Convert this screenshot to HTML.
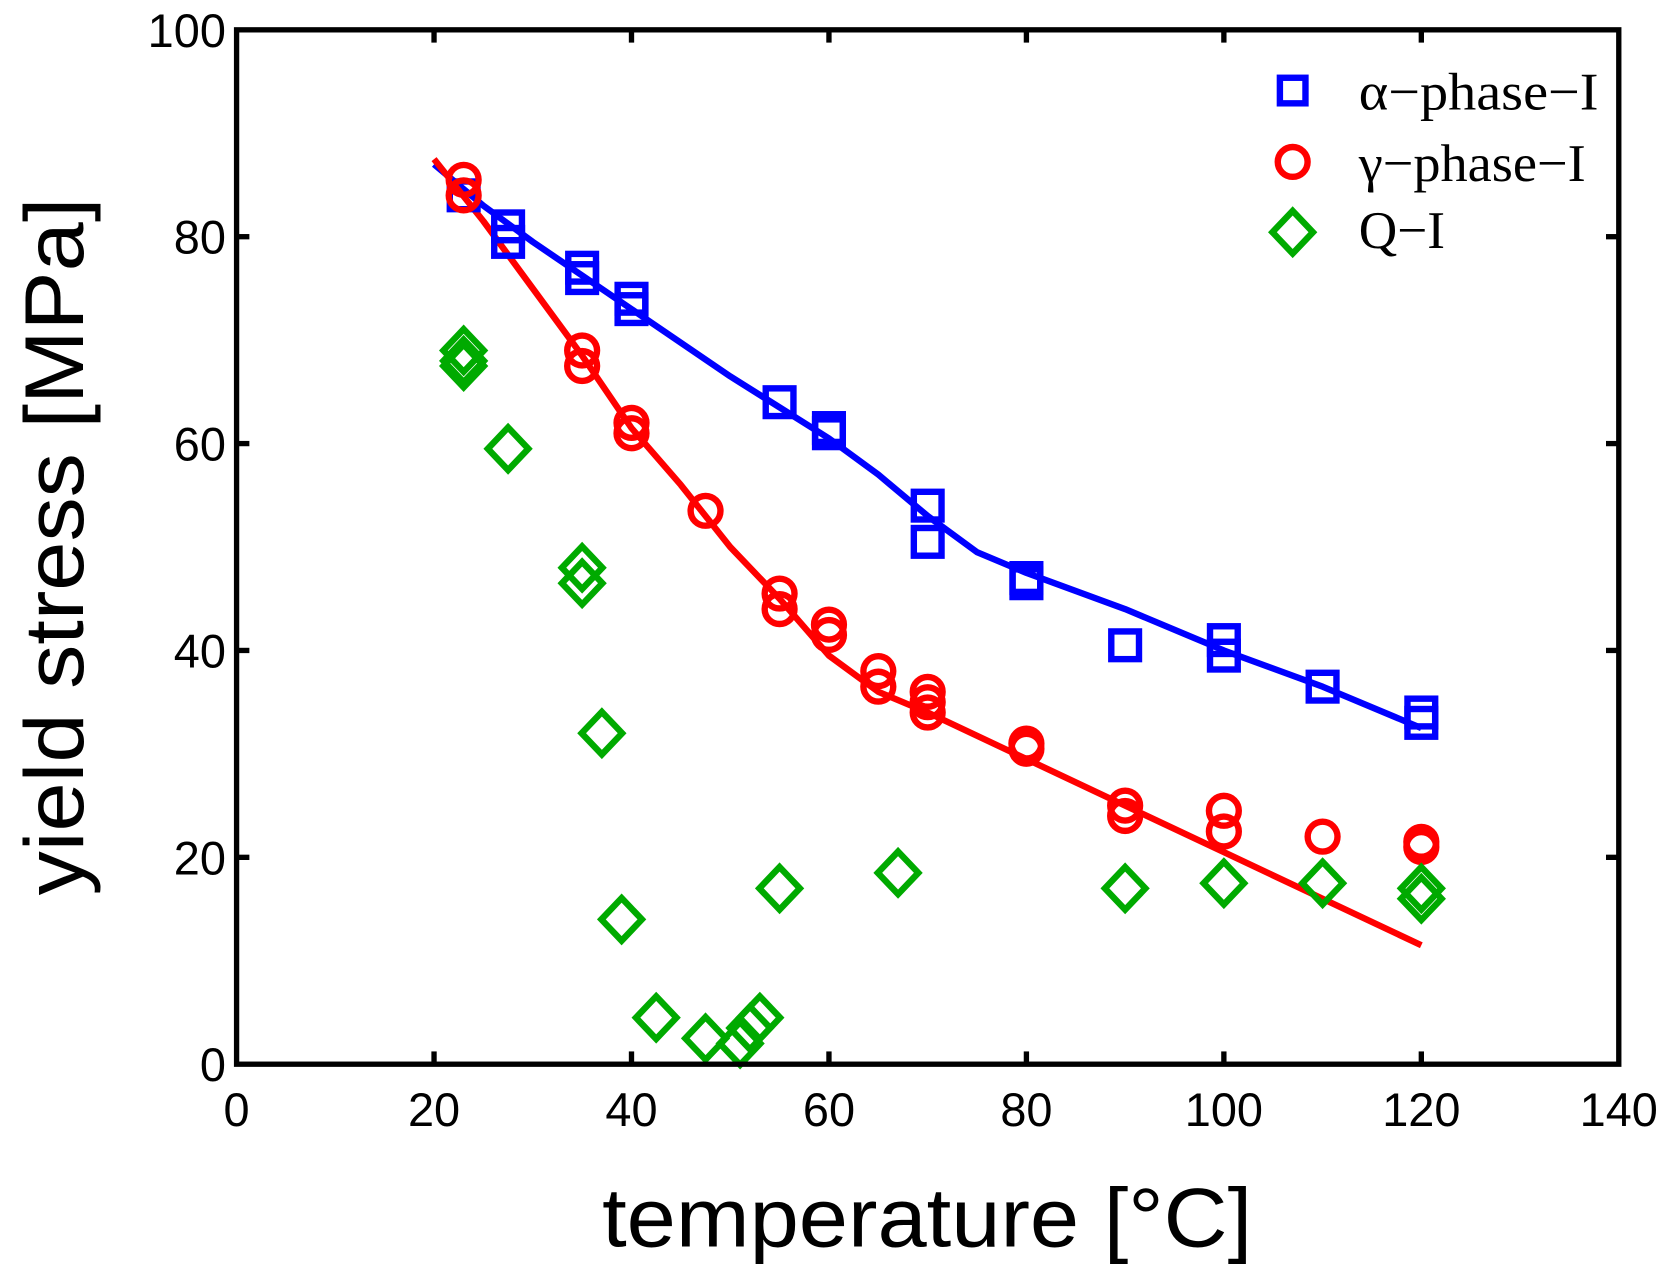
<!DOCTYPE html>
<html><head><meta charset="utf-8"><style>
html,body{margin:0;padding:0;background:#fff;}
svg{display:block;}
</style></head><body>
<svg id="s" xmlns="http://www.w3.org/2000/svg" width="1671" height="1273" viewBox="0 0 1568 1195" preserveAspectRatio="none">
<rect width="1568" height="1195" fill="#fff"/>
<g id="plot"></g>
<rect x="222" y="28" width="1297" height="971" fill="none" stroke="#000" stroke-width="5"/>
<g id="ticks" stroke="#000" stroke-width="5"></g>
<g id="labels" font-family="Liberation Sans, sans-serif" font-size="44" fill="#000"></g>
<text x="870" y="1170" text-anchor="middle" font-family="Liberation Sans, sans-serif" font-size="78" textLength="610" lengthAdjust="spacingAndGlyphs">temperature [°C]</text>
<text transform="translate(78,513) rotate(-90)" text-anchor="middle" font-family="Liberation Sans, sans-serif" font-size="78" textLength="655" lengthAdjust="spacingAndGlyphs">yield stress [MPa]</text>
<g font-family="Liberation Serif, serif" font-size="50" fill="#000">
<rect x="1201" y="73" width="24" height="24" fill="none" stroke="#0000ff" stroke-width="6"/>
<text x="1275" y="103" textLength="225" lengthAdjust="spacingAndGlyphs">α−phase−I</text>
<circle cx="1213" cy="152" r="14" fill="none" stroke="#ff0000" stroke-width="6"/>
<text x="1275" y="170" textLength="213" lengthAdjust="spacingAndGlyphs">γ−phase−I</text>
<path d="M1213 198 L1232 218 L1213 238 L1194 218 Z" fill="none" stroke="#00aa00" stroke-width="6"/>
<text x="1275" y="233">Q−I</text>
</g>
</svg>
<script>
var X=function(t){return 222+t*1297/140;},Y=function(v){return 999-v*971/100;};
var NS="http://www.w3.org/2000/svg";
function el(p,n,a){var e=document.createElementNS(NS,n);for(var k in a)e.setAttribute(k,a[k]);p.appendChild(e);return e;}
var plot=document.getElementById('plot'),ticks=document.getElementById('ticks'),lab=document.getElementById('labels');
for(var t=0;t<=140;t+=20){var x=X(t);
 if(t>0&&t<140){el(ticks,'line',{x1:x,y1:999,x2:x,y2:987});el(ticks,'line',{x1:x,y1:28,x2:x,y2:40});}
 var tx=el(lab,'text',{x:x,y:1057,'text-anchor':'middle'});tx.textContent=t;}
for(var v=0;v<=100;v+=20){var y=Y(v);
 if(v>0&&v<100){el(ticks,'line',{x1:222,y1:y,x2:234,y2:y});el(ticks,'line',{x1:1519,y1:y,x2:1507,y2:y});}
 var ty=el(lab,'text',{x:212,y:y+16,'text-anchor':'end'});ty.textContent=v;}
function line(pts,c){el(plot,'polyline',{points:pts.map(function(p){return X(p[0])+','+Y(p[1]);}).join(' '),fill:'none',stroke:c,'stroke-width':6,'stroke-linejoin':'round'});}
line([[20,87],[25,83],[30,79.5],[40,73],[50,66.5],[55,63.5],[60,60.5],[65,57],[70,53],[75,49.5],[80,47.5],[90,44],[100,40],[110,36.5],[120,32.5]],'#0000ff');
line([[20,87.5],[25,81.5],[30,75],[35,68.5],[40,61.5],[45,56],[50,50],[55,45],[60,39.5],[65,36],[70,34],[80,29.5],[90,25],[100,20.5],[110,16],[120,11.5]],'#ff0000');
var B=[[23,84],[27.5,81],[27.5,79.5],[35,77],[35,76],[40,74],[40,73],[55,64],[60,61.5],[60,61],[70,54],[70,50.5],[80,47],[80,46.5],[90,40.5],[100,41],[100,39.5],[110,36.5],[120,34],[120,33]];
B.forEach(function(p){el(plot,'rect',{x:X(p[0])-13,y:Y(p[1])-13,width:26,height:26,fill:'none',stroke:'#0000ff','stroke-width':6});});
var R=[[23,85.5],[23,84],[35,69],[35,67.5],[40,62],[40,61],[47.5,53.5],[55,45.5],[55,44],[60,42.5],[60,41.5],[65,38],[65,36.5],[70,36],[70,35],[70,34],[80,31],[80,30.5],[90,25],[90,24],[100,24.5],[100,22.5],[110,22],[120,21.5],[120,21]];
R.forEach(function(p){el(plot,'circle',{cx:X(p[0]),cy:Y(p[1]),r:14,fill:'none',stroke:'#ff0000','stroke-width':6});});
var G=[[23,69],[23,68],[23,67.5],[27.5,59.5],[35,48],[35,46.5],[37,32],[39,14],[42.5,4.5],[47.5,2.5],[51,2],[52,3.5],[53,4.5],[55,17],[67,18.5],[90,17],[100,17.5],[110,17.5],[120,17],[120,16]];
G.forEach(function(p){var x=X(p[0]),y=Y(p[1]);el(plot,'path',{d:'M'+x+' '+(y-20)+' L'+(x+19)+' '+y+' L'+x+' '+(y+20)+' L'+(x-19)+' '+y+' Z',fill:'none',stroke:'#00aa00','stroke-width':6});});
</script>
</body></html>
